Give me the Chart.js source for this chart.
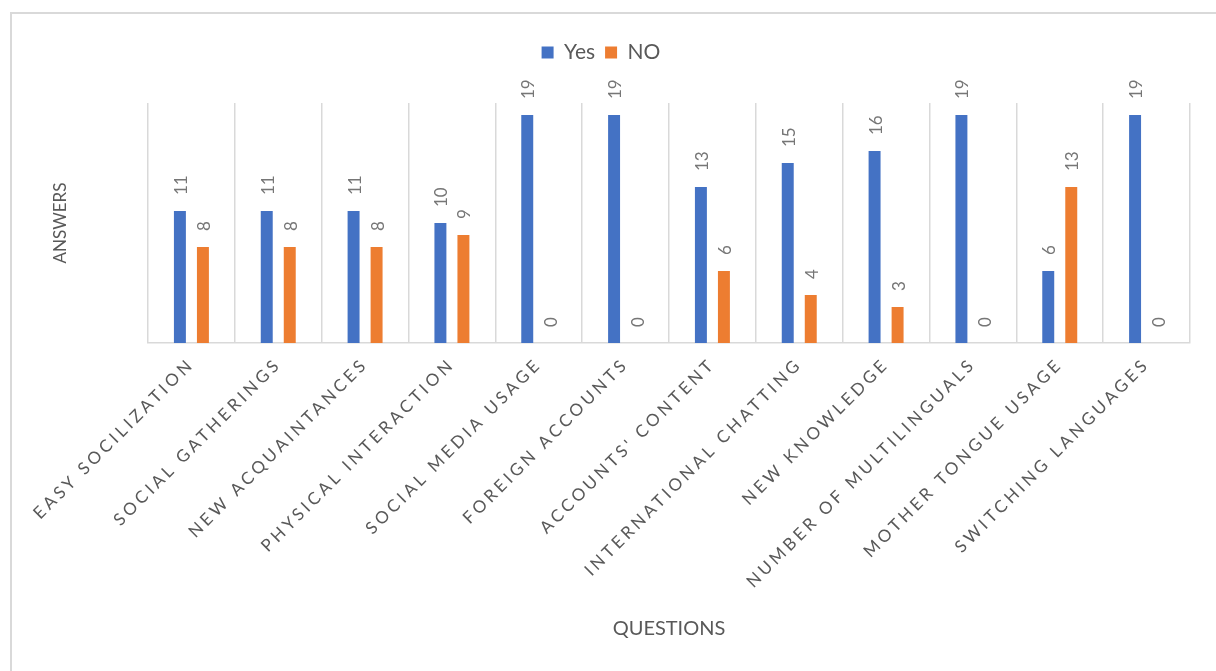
<!DOCTYPE html>
<html>
<head>
<meta charset="utf-8">
<script src="https://cdn.jsdelivr.net/npm/chart.js@4/dist/chart.umd.min.js"></script>
<style>
  html, body { margin: 0; padding: 0; background: #ffffff; overflow: hidden; }
  #wrap { position: relative; width: 1216px; height: 671px; overflow: hidden; }
  #frame { position: absolute; left: 10px; top: 12px; width: 1400px; height: 900px;
           border: 2px solid #d9d9d9; box-sizing: border-box; }
  #c { position: absolute; left: 0; top: 0; }
</style>
</head>
<body>
<div id="wrap">
  <div id="frame"></div>
  <canvas id="c" width="1216" height="671"></canvas>
</div>
<script>
// Survey questions and answer counts
const categories = [
  "EASY SOCILIZATION", "SOCIAL GATHERINGS", "NEW ACQUAINTANCES", "PHYSICAL INTERACTION",
  "SOCIAL MEDIA USAGE", "FOREIGN ACCOUNTS", "ACCOUNTS' CONTENT", "INTERNATIONAL CHATTING",
  "NEW KNOWLEDGE", "NUMBER OF MULTILINGUALS", "MOTHER TONGUE USAGE", "SWITCHING LANGUAGES"
];
const yesValues = [11, 11, 11, 10, 19, 19, 13, 15, 16, 19, 6, 19];
const noValues  = [8, 8, 8, 9, 0, 0, 6, 4, 3, 0, 13, 0];
const seriesNames = ["Yes", "NO"];
const xTitle = "QUESTIONS";
const yTitle = "ANSWERS";

const FONT = "Lato, 'Open Sans', sans-serif";
const TEXT = "#595959";
const GRID = "#d9d9d9";

// Value labels drawn vertically above each bar
const valueLabels = {
  id: "valueLabels",
  afterDatasetsDraw(chart) {
    const ctx = chart.ctx;
    ctx.save();
    ctx.font = "17px " + FONT;
    ctx.fillStyle = "#767676";
    ctx.textAlign = "left";
    ctx.textBaseline = "middle";
    chart.data.datasets.forEach((ds, di) => {
      const meta = chart.getDatasetMeta(di);
      meta.data.forEach((bar, i) => {
        ctx.save();
        ctx.translate(bar.x + 1.5, bar.y - 16);
        ctx.rotate(-Math.PI / 2);
        ctx.fillText(String(ds.data[i]), 0, 0);
        ctx.restore();
      });
    });
    ctx.restore();
  }
};

// Spaced-out lettering for the category labels
const spacedTicks = {
  id: "spacedTicks",
  beforeDraw(chart) {
    const sx = chart.scales.x;
    if (sx && !sx._spaced) {
      const orig = sx.drawLabels;
      sx.drawLabels = function (area) {
        const ctx = this.ctx;
        ctx.save();
        ctx.letterSpacing = "3.5px";
        orig.call(this, area);
        ctx.restore();
      };
      sx._spaced = true;
    }
  }
};

new Chart(document.getElementById("c"), {
  type: "bar",
  data: {
    labels: categories,
    datasets: [
      { label: seriesNames[0], data: yesValues, backgroundColor: "#4472C4",
        categoryPercentage: 0.53, barPercentage: 0.52 },
      { label: seriesNames[1], data: noValues, backgroundColor: "#ED7D31",
        categoryPercentage: 0.53, barPercentage: 0.52 }
    ]
  },
  options: {
    responsive: false,
    animation: false,
    layout: { padding: { left: 12, right: 26, top: 32, bottom: 10 } },
    plugins: {
      legend: {
        position: "top",
        labels: {
          font: { family: FONT, size: 21 },
          color: TEXT,
          boxWidth: 12, boxHeight: 12,
          padding: 10
        }
      },
      subtitle: {
        display: true, text: "", weight: 500,
        font: { size: 10 },
        padding: { top: 0, bottom: 18 }
      },
      tooltip: { enabled: false }
    },
    scales: {
      x: {
        grid: { display: true, color: GRID, lineWidth: 1.5, drawTicks: false, offset: true },
        border: { display: true, color: GRID, width: 1.5 },
        ticks: {
          font: { family: FONT, size: 17 },
          color: TEXT,
          minRotation: 45, maxRotation: 45,
          autoSkip: false,
          padding: 11
        },
        title: {
          display: true, text: xTitle, color: TEXT,
          font: { family: FONT, size: 20 },
          padding: { top: 0, bottom: 20 }
        },
        afterFit(scale) { scale.height = 318; }
      },
      y: {
        min: 0, max: 20,
        grid: { display: false },
        border: { display: false },
        ticks: { display: false },
        title: {
          display: true, text: yTitle, color: TEXT,
          font: { family: FONT, size: 17 },
          padding: { top: 38, bottom: 0 }
        },
        afterFit(scale) { scale.width = 136; }
      }
    }
  },
  plugins: [valueLabels, spacedTicks]
});
</script>
</body>
</html>
